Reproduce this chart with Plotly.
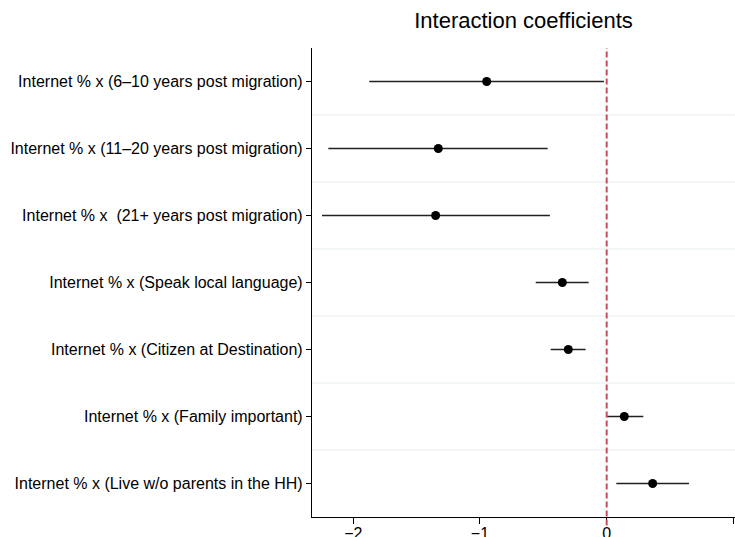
import plotly.graph_objects as go

labels = [
    "Internet % x (6–10 years post migration)",
    "Internet % x (11–20 years post migration)",
    "Internet % x  (21+ years post migration)",
    "Internet % x (Speak local language)",
    "Internet % x (Citizen at Destination)",
    "Internet % x (Family important)",
    "Internet % x (Live w/o parents in the HH)",
]
coef = [-0.947, -1.329, -1.350, -0.350, -0.303, 0.139, 0.363]
ci_low = [-1.874, -2.197, -2.247, -0.560, -0.442, 0.000, 0.076]
ci_high = [-0.021, -0.466, -0.448, -0.142, -0.166, 0.289, 0.650]
x_ticks = [-2, -1, 0, 1]

pos = list(range(len(labels)))
err_plus = [h - c for h, c in zip(ci_high, coef)]
err_minus = [c - l for c, l in zip(coef, ci_low)]

fig = go.Figure()
fig.add_trace(go.Scatter(
    x=coef, y=pos, mode="markers",
    marker=dict(color="black", size=9),
    error_x=dict(type="data", array=err_plus, arrayminus=err_minus,
                 width=0, thickness=1.6, color="#222222"),
    showlegend=False, hoverinfo="skip",
))

shapes = []
for i in range(len(labels) - 1):
    shapes.append(dict(type="line", xref="paper", yref="y", x0=0, x1=1,
                       y0=i + 0.5, y1=i + 0.5,
                       line=dict(color="#e6eeef", width=1.2), layer="below"))
shapes.append(dict(type="line", xref="x", yref="paper", x0=0, x1=0,
                   y0=-0.018, y1=1,
                   line=dict(color="#c4505f", width=2, dash="6px,3px")))
fig.update_layout(
    width=735, height=537,
    margin=dict(l=312, r=0, t=48, b=20),
    paper_bgcolor="white", plot_bgcolor="white",
    font=dict(family="Liberation Sans, Arial, sans-serif", size=16, color="black"),
    title=dict(text="Interaction coefficients", x=0.5, xref="paper",
               xanchor="center", y=1 - 20 / 537, yanchor="middle",
               font=dict(size=22, color="black")),
    shapes=shapes,
    xaxis=dict(range=[-2.326, 1.013], tickvals=x_ticks, showgrid=False,
               zeroline=False, showline=True, linecolor="black", linewidth=1.2,
               ticks="outside", ticklen=6, tickcolor="black", tickwidth=1.2,
               tickfont=dict(size=16), automargin=False, ticklabelstandoff=-4),
    yaxis=dict(range=[len(labels) - 0.5, -0.5], tickvals=pos, ticktext=labels,
               showgrid=False, zeroline=False, showline=True, linecolor="black",
               linewidth=1.2, ticks="outside", ticklen=5, tickcolor="black",
               tickwidth=1.2, tickfont=dict(size=16), automargin=False),
)
fig.write_html("out.html")
